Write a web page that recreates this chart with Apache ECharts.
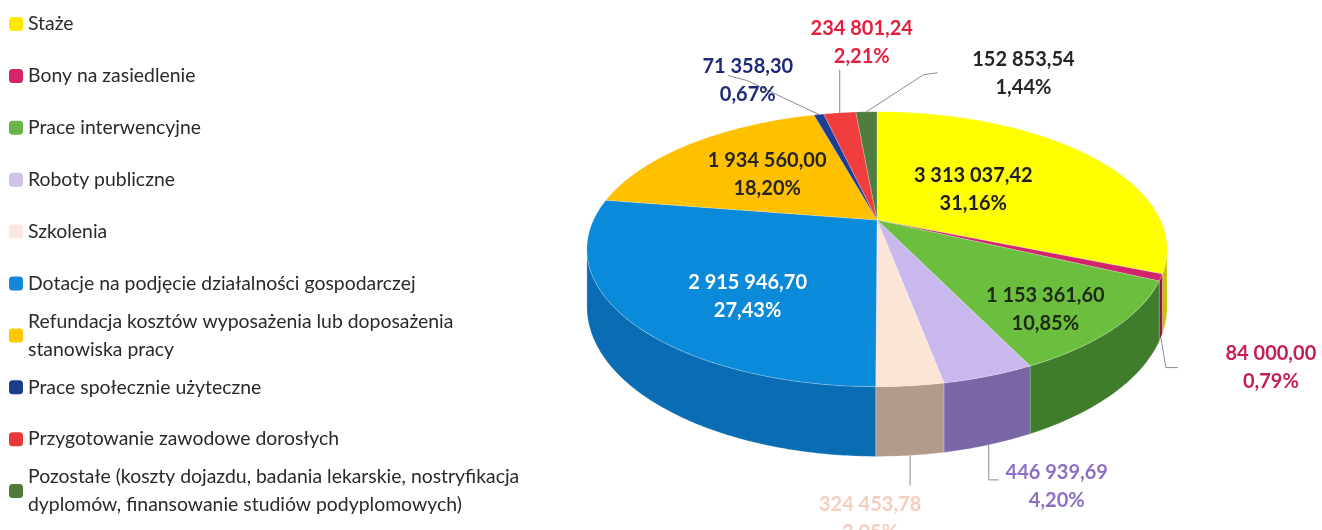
<!DOCTYPE html>
<html>
<head>
<meta charset="utf-8">
<title>Struktura wydatków</title>
<script src="https://cdn.jsdelivr.net/npm/echarts@6/dist/echarts.min.js"></script>
<style>
  html, body { margin: 0; padding: 0; background: #fff; }
  #chart { width: 1322px; height: 530px; }
</style>
</head>
<body>
<div id="chart"></div>
<script>
const categories = [
  'Staże',
  'Bony na zasiedlenie',
  'Prace interwencyjne',
  'Roboty publiczne',
  'Szkolenia',
  'Dotacje na podjęcie działalności gospodarczej',
  'Refundacja kosztów wyposażenia lub doposażenia\nstanowiska pracy',
  'Prace społecznie użyteczne',
  'Przygotowanie zawodowe dorosłych',
  'Pozostałe (koszty dojazdu, badania lekarskie, nostryfikacja\ndyplomów, finansowanie studiów podyplomowych)'
];
const values = [
  3313037.42, 84000.00, 1153361.60, 446939.69, 324453.78,
  2915946.70, 1934560.00, 71358.30, 234801.24, 152853.54
];

// colours
const topColors = ['#ffff00', '#d2246c', '#6cbf3e', '#c9b8ee', '#fce4d6',
  '#0b8ad9', '#ffc000', '#1c3f95', '#f03e3e', '#4e7d3f'];
const wallColors = ['#c9c400', '#8c1840', '#3f7d2c', '#7866a6', '#b39b8c',
  '#0a6cb2', '#c99400', '#15306e', '#b42a2a', '#3a5c2e'];
const legendColors = ['#ffe800', '#d2246c', '#6ab44a', '#cfc3ec', '#fde8e0',
  '#1488d8', '#ffc800', '#1a3d8c', '#e83838', '#527b3a'];
const labelColors = ['#1c1c2c', '#c41e5a', '#1d2a14', '#8d70c4', '#f4cfc0',
  '#ffffff', '#262626', '#1e2a78', '#e41e3c', '#262626'];

// label placement: inside -> [radius, angle shift in deg]; outside -> leader line + offset
const labelLayout = [
  { r: 0.43, dA: 0 },
  { line: [[0, 0], [5, 30], [17, 30]], off: [110, 30], rim: 'bottom' },
  { r: 0.79, dA: 4.4 },
  { line: [[0, 0], [0, 35], [10, 35]], off: [68, 42], rim: 'bottom' },
  { line: [[0, 0], [0, 30]], off: [-40, 63], rim: 'bottom' },
  { r: 0.66, dA: -11.6 },
  { r: 0.56, dA: 0 },
  { line: [[0, 0], [-72, -34], [-91, -39]], off: [-71, -34], rim: 'top' },
  { line: [[0, 0], [0, -43]], off: [22, -70], rim: 'top' },
  { line: [[0, 0], [57, -37], [71, -39]], off: [157, -38], rim: 'top' }
];

// 3d pie geometry (px)
const CX = 877, CY = 220, RX = 283.5, RY = 131.3, PERSP = 0.212, DEPTH = 55;
const VIS0 = Math.PI / 2 + Math.asin(PERSP);
const VIS1 = 3 * Math.PI / 2 - Math.asin(PERSP);

const total = values.reduce((a, b) => a + b, 0);
const starts = [], ends = [];
let acc = 0;
values.forEach(v => {
  starts.push(acc / total * Math.PI * 2);
  acc += v;
  ends.push(acc / total * Math.PI * 2);
});

function project(r, a, h) {
  const u = r * Math.sin(a), v = -r * Math.cos(a);
  const d = 1 - PERSP * v;
  return [CX + RX * u / d, CY + (RY * v + h * DEPTH) / d];
}

function arc(a0, a1, h) {
  const n = Math.max(2, Math.ceil(Math.abs(a1 - a0) / 0.01));
  const pts = [];
  for (let k = 0; k <= n; k++) pts.push(project(1, a0 + (a1 - a0) * k / n, h));
  return pts;
}

function fmtValue(v) {
  const parts = v.toFixed(2).split('.');
  return parts[0].replace(/\B(?=(\d{3})+(?!\d))/g, ' ') + ',' + parts[1];
}
function fmtPct(v) {
  return (v / total * 100).toFixed(2).replace('.', ',') + '%';
}

function renderWall(params, api) {
  const i = api.value(0);
  const a0 = Math.max(starts[i], VIS0), a1 = Math.min(ends[i], VIS1);
  if (a1 <= a0) return null;
  return {
    type: 'polygon',
    shape: { points: arc(a0, a1, 0).concat(arc(a1, a0, 1)) },
    style: { fill: wallColors[i], stroke: 'rgba(255,255,255,0.35)', lineWidth: 0.6 }
  };
}

function renderTop(params, api) {
  const i = api.value(0);
  return {
    type: 'polygon',
    shape: { points: [[CX, CY]].concat(arc(starts[i], ends[i], 0)) },
    style: { fill: topColors[i], stroke: 'rgba(255,255,255,0.35)', lineWidth: 0.6 }
  };
}

function renderLabel(params, api) {
  const i = api.value(0);
  const cfg = labelLayout[i];
  const mid = (starts[i] + ends[i]) / 2;
  const text = fmtValue(values[i]) + '\n' + fmtPct(values[i]);
  const textStyle = {
    text: text, fill: labelColors[i], fontFamily: 'Lato', fontWeight: 'bold',
    fontSize: 20, lineHeight: 28, align: 'center', verticalAlign: 'middle'
  };
  if (cfg.r !== undefined) {
    const p = project(cfg.r, mid + cfg.dA * Math.PI / 180, 0);
    return { type: 'text', x: p[0], y: p[1], style: textStyle };
  }
  const anchor = project(1, mid, cfg.rim === 'bottom' ? 1 : 0);
  return {
    type: 'group',
    children: [
      {
        type: 'polyline',
        shape: { points: cfg.line.map(o => [anchor[0] + o[0], anchor[1] + o[1]]) },
        style: { stroke: '#8c8c8c', lineWidth: 1, fill: null }
      },
      { type: 'text', x: anchor[0] + cfg.off[0], y: anchor[1] + cfg.off[1], style: textStyle }
    ]
  };
}

const LEG_TOP = 24, LEG_STEP = 51.9, LEG_LH = 28;
const seriesData = values.map((v, i) => [i, v]);

const chart = echarts.init(document.getElementById('chart'));
chart.setOption({
  animation: false,
  legend: categories.map((name, i) => {
    const twoLines = name.indexOf('\n') >= 0;
    return {
      data: [name],
      orient: 'vertical',
      left: 9,
      top: LEG_TOP + i * LEG_STEP - (twoLines ? 1.5 : 0.5) * LEG_LH,
      padding: 0,
      itemWidth: 14,
      itemHeight: 14,
      icon: 'roundRect',
      selectedMode: false,
      textStyle: {
        fontFamily: 'Lato',
        fontSize: 19.4,
        color: '#2a2a2a',
        lineHeight: LEG_LH,
        padding: twoLines ? [LEG_LH, 0, 0, 0] : 0
      }
    };
  }),
  series: [
    {
      type: 'pie',
      name: 'legenda',
      radius: 0,
      center: [CX, CY],
      silent: true,
      label: { show: false },
      labelLine: { show: false },
      data: categories.map((n, i) => ({ name: n, value: values[i], itemStyle: { color: legendColors[i] } }))
    },
    { type: 'custom', name: 'boki', coordinateSystem: 'none', silent: true, z: 1, renderItem: renderWall, data: seriesData },
    { type: 'custom', name: 'wierzch', coordinateSystem: 'none', silent: true, z: 2, renderItem: renderTop, data: seriesData },
    { type: 'custom', name: 'etykiety', coordinateSystem: 'none', silent: true, z: 3, renderItem: renderLabel, data: seriesData }
  ]
});
</script>
</body>
</html>
